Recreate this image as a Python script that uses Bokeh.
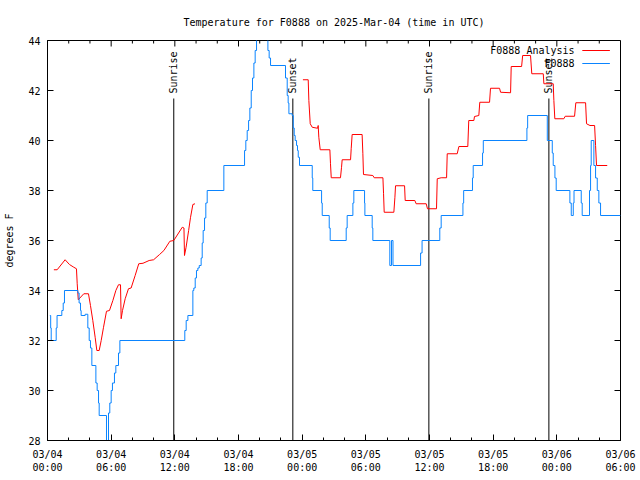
import math
import numpy as np
from bokeh.plotting import figure
from bokeh.models import FixedTicker, Range1d, Label
from bokeh.core.properties import value
from bokeh.embed import file_html
from bokeh.resources import INLINE

TITLE = "Temperature for F0888 on 2025-Mar-04 (time in UTC)"
Y_LABEL = "degrees F"
series_names = ["F0888 Analysis", "F0888"]

# hours since 2025-03-04 00:00 UTC -- observations (F0888)
obs_hours = [0.22, 0.30, 0.35, 0.82, 0.90, 1.35, 1.48, 1.60, 2.86, 2.98,
             3.11, 3.17, 3.55, 3.80, 3.93, 4.05, 4.18, 4.56, 4.68, 4.81,
             4.87, 5.56, 5.75, 5.87, 6.00, 6.12, 6.31, 6.44, 6.69, 6.82,
             12.94, 13.07, 13.23, 13.70, 13.79, 13.92, 14.04, 14.17, 14.30, 14.48,
             14.58, 14.67, 14.80, 14.92, 15.05, 16.62, 18.57, 18.69, 18.82, 18.95,
             19.07, 19.20, 19.32, 19.45, 19.57, 19.70, 19.90, 20.55, 20.77, 20.89,
             21.02, 22.43, 22.59, 22.68, 22.75, 23.06, 23.16, 23.25, 23.34, 23.47,
             23.56, 23.63, 23.75, 24.95, 25.00, 25.83, 25.89, 26.55, 26.64, 28.15,
             28.24, 28.78, 28.87, 29.88, 29.91, 30.60, 30.66, 32.26, 32.42, 32.56,
             35.16, 35.30, 36.97, 37.10, 39.15, 39.22, 40.05, 40.12, 41.00, 41.07,
             45.18, 45.25, 47.10, 47.57, 47.66, 47.82, 47.94, 49.23, 49.36, 49.55,
             49.62, 50.30, 50.39, 51.08, 51.18, 51.24, 51.49, 51.65, 51.81, 51.96,
             52.12, 54.0]
obs_temp = [33.0, 32.5, 32.0, 32.5, 33.0, 33.2, 33.5, 34.0, 33.9, 33.5,
            33.2, 33.0, 33.05, 32.5, 32.0, 31.7, 31.0, 30.3, 30.0, 29.5,
            29.0, 27.0, 29.1, 29.5, 30.0, 30.3, 30.7, 31.0, 31.5, 32.0,
            32.4, 32.8, 33.0, 34.0, 34.1, 34.5, 34.8, 34.9, 35.0, 35.3,
            35.9, 36.4, 36.9, 37.5, 38.0, 39.0, 39.6, 40.0, 40.4, 40.8,
            41.3, 42.0, 42.5, 43.1, 43.6, 44.3, 45.0, 44.3, 43.6, 43.3,
            43.0, 42.5, 41.8, 41.5, 41.07, 41.0, 40.5, 40.2, 40.0, 39.8,
            39.6, 39.33, 39.0, 38.5, 38.0, 37.5, 37.0, 36.5, 36.0, 36.5,
            37.0, 37.5, 38.0, 37.5, 37.0, 36.5, 36.0, 35.0, 36.0, 35.0,
            35.5, 36.0, 36.5, 37.0, 37.5, 38.0, 38.5, 39.0, 39.5, 40.0,
            40.5, 41.0, 40.0, 39.5, 39.0, 38.5, 38.0, 37.5, 37.0, 37.5,
            38.0, 37.5, 37.0, 38.0, 39.0, 40.0, 39.0, 38.5, 38.0, 37.5,
            37.0, 37.0]

# analysis (F0888 Analysis); NaN marks the gap
ana_hours = [0.60, 0.91, 1.66, 2.07, 2.48, 2.73, 2.80, 2.90, 3.05, 3.42,
             3.86, 4.05, 4.27, 4.49, 4.65, 4.87, 5.06, 5.28, 5.56, 5.84,
             6.16, 6.44, 6.69, 6.88, 6.94, 7.07, 7.32, 7.63, 7.88, 8.26,
             8.60, 9.00, 9.58, 10.00, 10.56, 10.97, 11.53, 11.90, 12.70, 12.86,
             12.91, 13.06, 13.30, 13.48, 13.70, 13.90, 18.0, 24.07, 24.57, 24.63,
             24.76, 24.95, 25.45, 25.51, 25.57, 25.70, 26.61, 26.67, 26.74, 27.61,
             27.71, 27.77, 28.56, 28.62, 28.71, 29.65, 29.72, 29.78, 30.66, 30.79,
             31.61, 31.67, 31.73, 32.64, 32.74, 32.80, 33.65, 33.71, 34.62, 34.74,
             35.69, 35.81, 36.66, 36.73, 37.10, 37.61, 37.67, 38.61, 38.77, 39.61,
             39.70, 40.18, 40.24, 40.65, 40.74, 41.66, 41.75, 42.60, 42.70, 43.64,
             43.70, 44.68, 44.78, 45.52, 45.64, 46.72, 46.78, 47.66, 47.72, 47.81,
             48.66, 48.79, 49.67, 49.79, 50.71, 50.80, 51.12, 51.56, 51.65, 51.74,
             52.75]
ana_temp = [34.83, 34.83, 35.23, 35.04, 34.93, 34.87, 34.27, 33.63, 33.70, 33.87,
            33.87, 33.40, 32.80, 32.13, 31.60, 31.60, 32.00, 32.53, 33.17, 33.20,
            33.60, 34.00, 34.23, 34.23, 32.87, 33.20, 33.67, 34.07, 34.10, 34.60,
            35.07, 35.09, 35.20, 35.23, 35.44, 35.60, 35.97, 36.00, 36.53, 36.50,
            35.40, 35.73, 36.40, 36.93, 37.44, 37.47, float("nan"), 42.43, 42.43, 41.60,
            40.67, 40.53, 40.49, 40.60, 40.13, 39.63, 39.63, 39.07, 38.51, 38.51,
            38.93, 39.23, 39.23, 39.67, 40.24, 40.24, 39.47, 38.64, 38.60, 38.51,
            38.51, 37.87, 37.13, 37.13, 37.73, 38.19, 38.19, 37.60, 37.60, 37.47,
            37.47, 37.27, 37.27, 38.47, 38.51, 38.51, 39.47, 39.47, 39.76, 39.76,
            40.80, 40.80, 40.96, 41.00, 41.53, 41.53, 42.09, 42.09, 41.93, 41.91,
            42.96, 42.96, 43.40, 43.40, 42.67, 42.67, 42.27, 42.27, 41.60, 40.87,
            40.87, 40.97, 40.97, 41.51, 41.51, 40.67, 40.60, 40.60, 39.80, 39.00,
            39.00]

event_hours = [11.90, 23.12, 35.94, 47.25]
event_names = ["Sunrise", "Sunset", "Sunrise", "Sunset"]

x_ticks = [0, 6, 12, 18, 24, 30, 36, 42, 48, 54]
x_tick_labels = ["03/04\n00:00", "03/04\n06:00", "03/04\n12:00", "03/04\n18:00",
                 "03/05\n00:00", "03/05\n06:00", "03/05\n12:00", "03/05\n18:00",
                 "03/06\n00:00", "03/06\n06:00"]
x_minor = [0, 2, 4, 6, 8, 10, 12, 14, 16, 18, 20, 22, 24, 26, 28, 30, 32, 34,
           36, 38, 40, 42, 44, 46, 48, 50, 52, 54]
y_ticks = [28, 30, 32, 34, 36, 38, 40, 42, 44]

FONT = "DejaVu Sans Mono"
FS = "10px"
RED = "#ff0000"
BLUE = "#0a84ff"
X0, X1, Y0, Y1 = 0, 54, 28, 44
W, H = 640, 480
BL, BR, BT, BB = 47, 20, 40, 40
MAJ, MIN = 6, 3

p = figure(width=W, height=H, output_backend="svg", toolbar_location=None,
           x_range=Range1d(X0, X1), y_range=Range1d(Y0, Y1),
           min_border_left=BL, min_border_right=BR, min_border_top=BT,
           min_border_bottom=BB)
p.background_fill_color = "white"
p.border_fill_color = "white"
p.outline_line_color = "black"
p.outline_line_width = 1
p.xgrid.grid_line_color = None
p.ygrid.grid_line_color = None

p.title.text = TITLE
p.title.align = "center"
p.title.text_font = FONT
p.title.text_font_size = FS
p.title.text_font_style = "normal"
p.title.text_color = "black"
p.title.standoff = 26

xt = FixedTicker(ticks=x_ticks, minor_ticks=x_minor)
yt = FixedTicker(ticks=y_ticks, minor_ticks=[])

for ax in p.xaxis:
    ax.ticker = xt
    ax.major_label_overrides = {t: l for t, l in zip(x_ticks, x_tick_labels)}
    ax.major_label_standoff = 8
for ax in p.yaxis:
    ax.ticker = yt
    ax.axis_label = Y_LABEL
    ax.major_label_standoff = 7
    ax.axis_label_standoff = 10

for ax in list(p.xaxis) + list(p.yaxis):
    ax.major_tick_in = MAJ
    ax.major_tick_out = 0
    ax.minor_tick_in = MIN
    ax.minor_tick_out = 0
    ax.axis_line_color = "black"
    ax.major_tick_line_color = "black"
    ax.minor_tick_line_color = "black"
    ax.major_label_text_font = FONT
    ax.major_label_text_font_size = FS
    ax.major_label_text_color = "black"
    ax.axis_label_text_font = FONT
    ax.axis_label_text_font_size = FS
    ax.axis_label_text_font_style = "normal"
    ax.axis_label_text_color = "black"

# mirrored ticks on the top and right borders (same tick positions)
fw = W - BL - BR
fh = H - BT - BB
px_x = (X1 - X0) / fw
px_y = (Y1 - Y0) / fh
top_len = [(MAJ if t in x_ticks else MIN) * px_y for t in x_minor]
p.segment(x0=x_minor, y0=[Y1] * len(x_minor), x1=x_minor,
          y1=[Y1 - L for L in top_len], line_color="black", line_width=1)
p.segment(x0=[X1] * len(y_ticks), y0=y_ticks, x1=[X1 - MAJ * px_x] * len(y_ticks),
          y1=y_ticks, line_color="black", line_width=1)

# sunrise / sunset markers
p.segment(x0=event_hours, y0=[Y0] * len(event_hours), x1=event_hours,
          y1=[41.68] * len(event_hours), line_color="black", line_width=1)
p.text(x=event_hours, y=[41.88] * len(event_hours), text=event_names,
       angle=math.pi / 2, text_align="left", text_baseline="middle",
       text_font=value(FONT), text_font_size=FS, text_color="black")

p.line(np.array(ana_hours, dtype=float), np.array(ana_temp, dtype=float),
       line_color=RED, line_width=1)
p.step(obs_hours, obs_temp, mode="after", line_color=BLUE, line_width=1)

# legend (gnuplot style: text then sample line)
leg_colors = [RED, BLUE]
leg_y = [43.6, 43.08]
for name, col, yy in zip(series_names, leg_colors, leg_y):
    p.add_layout(Label(x=49.67, y=yy, text=name, text_align="right",
                       text_baseline="middle", text_font=FONT,
                       text_font_size=FS, text_color="black"))
    p.segment(x0=[50.4], y0=[yy], x1=[53.0], y1=[yy], line_color=col,
              line_width=1)

open("out.html", "w").write(file_html(p, INLINE))
